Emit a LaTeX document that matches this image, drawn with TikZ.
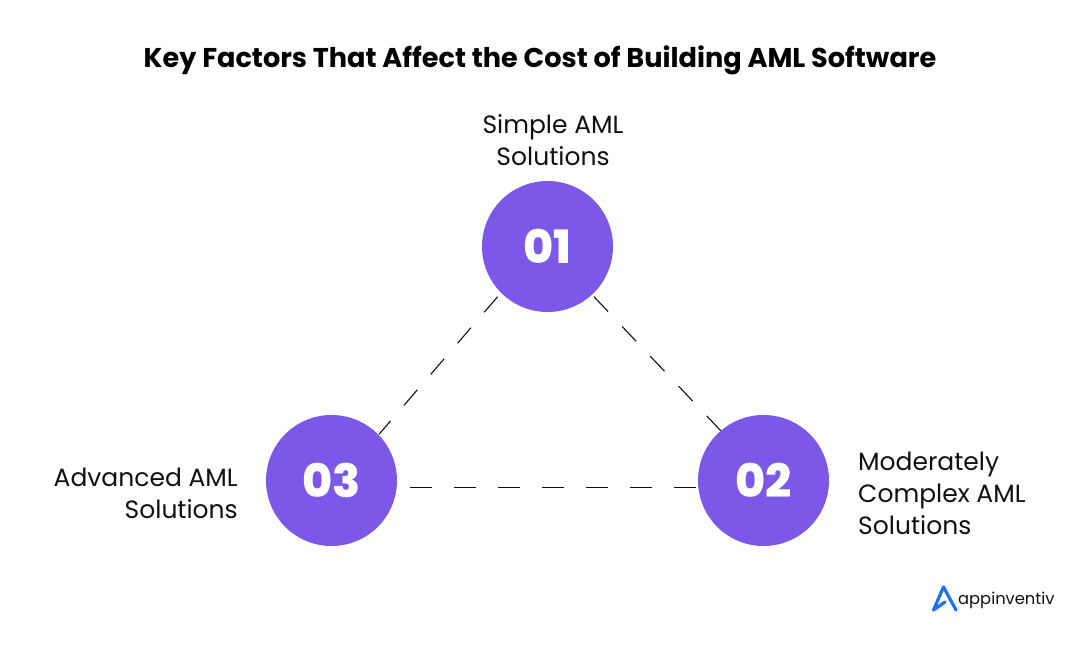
\documentclass[tikz,border=0pt]{standalone}
\usepackage{fontspec}
\setmainfont{Poppins}
\newfontfamily\numfont{Poppins ExtraBold}
\usetikzlibrary{positioning,calc}
\definecolor{purp}{RGB}{124,88,232}
\definecolor{logoblue}{RGB}{32,112,245}
\definecolor{inkk}{RGB}{17,17,17}
\begin{document}
\begin{tikzpicture}[x=1pt,y=-1pt,
	numb/.style={circle,fill=purp,minimum size=131pt,inner sep=0pt,text=white,font=\fontsize{46}{46}\numfont},
	lab/.style={text=inkk,inner sep=0pt,font=\fontsize{25}{32}\selectfont},
	link/.style={draw=inkk,line width=1.1pt,dash pattern=on 20.5pt off 20.5pt}]
	\useasboundingbox[fill=white] (0,0) rectangle (1080,648);
	\node [inner sep=0pt,text=black,font=\fontsize{27.15}{32}\selectfont\bfseries] (title) at (540,60.5) {Key Factors That Affect the Cost of Building AML Software};
	\node [numb] (n1) at (547.5,246.5) {01};
	\node [numb] (n2) at (763.5,480.5) {02};
	\node [numb] (n3) at (331.5,480.5) {03};
	\node [lab,align=center] (l1) at (553,140) {Simple AML\\Solutions};
	\node [lab,align=left,anchor=west] (l2) at (858,493.5) {Moderately\\Complex AML\\Solutions};
	\node [lab,align=right,anchor=east] (l3) at (238,493.5) {Advanced AML\\Solutions};
	% ends of the dashed lines
	\coordinate (a1) at ([shift={(-49.8,50.2)}]n1.center);
	\coordinate (a3) at ([shift={(47.5,-46.2)}]n3.center);
	\coordinate (b1) at ([shift={(46.5,50.2)}]n1.center);
	\coordinate (b2) at ([shift={(-42.8,-49.8)}]n2.center);
	\coordinate (c3) at ([shift={(78.5,6.8)}]n3.center);
	\coordinate (c2) at ([shift={(-66.5,6.8)}]n2.center);
	\draw [link] (a1)--(a3);
	\draw [link] (b1)--(b2);
	\draw [link,dash pattern=on 22pt off 22pt] (c3)--(c2);
	% logo
	\coordinate (t0) at (943.5,587);
	\coordinate (t1) at (933.5,610);
	\coordinate (t2) at (956,610);
	\coordinate (t3) at (945,602);
	\draw [logoblue,line width=3.2pt,line cap=round,line join=round] (t2)--(t0)--(t1)--(t3);
	\node [inner sep=0pt,anchor=base west,text=inkk,font=\fontsize{16.3}{20}\selectfont] (logo) at (958,604) {appinventiv};
\end{tikzpicture}
\end{document}
